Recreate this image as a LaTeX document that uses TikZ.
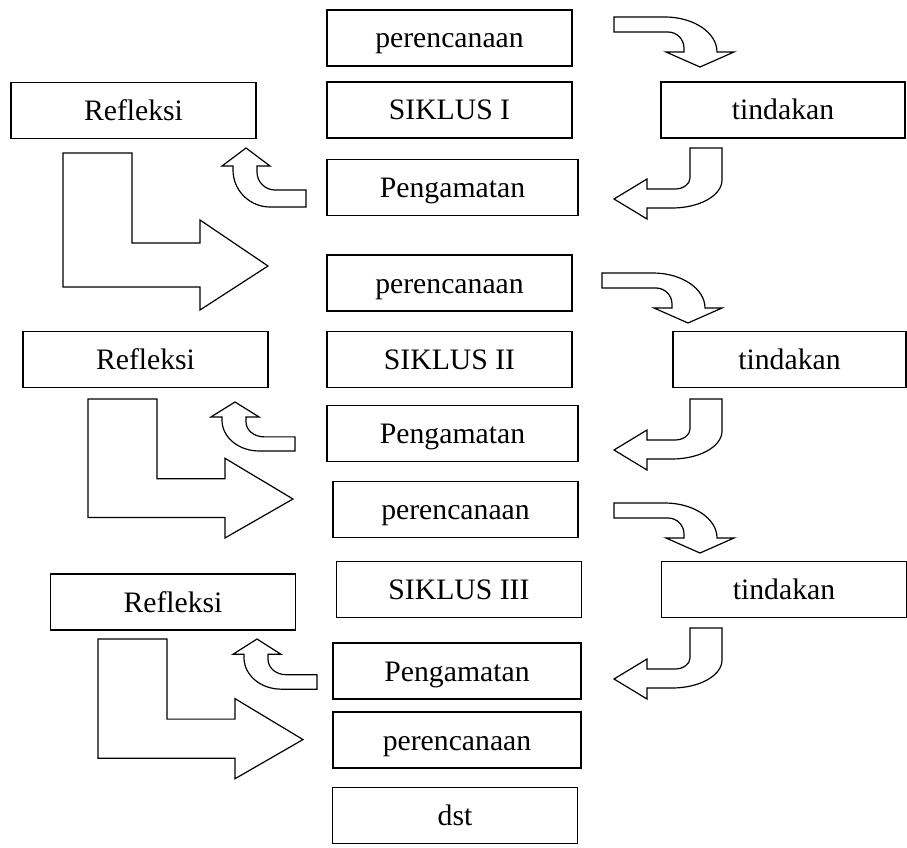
\documentclass[tikz,border=0pt]{standalone}
\usepackage{fontspec}
\setmainfont{Liberation Serif}
\tikzset{
  tahap/.style={draw, line width=1.2pt, inner sep=0pt, minimum width=245pt,
    minimum height=56pt, text height=26pt, text depth=6pt,
    font=\fontsize{29.7}{34}\selectfont},
  panah/.style={draw, line width=1.2pt, fill=white},
  % block arrows, drawn in pixel units from their top left corner
  pics/belokkanan/.style={code={
    \draw[panah] (0,0) -- (51,0) .. controls (79.7,0) and (103,15.7) .. (103,35)
      -- (120,35) -- (86,50) -- (52,35) -- (70,35) -- (70,31)
      .. controls (70,22.2) and (62.8,15) .. (54,15) -- (0,15) -- cycle;}},
  pics/belokkiri/.style={code={
    \draw[panah] (0,0) -- (32,0) -- (32,32) .. controls (32,47.5) and (9.6,60) .. (-18,60)
      -- (-43,60) -- (-43,71) -- (-76,51) -- (-43,31) -- (-43,41) -- (-15,41)
      .. controls (-6.7,41) and (0,36.1) .. (0,30) -- cycle;}},
  pics/panahkecil/.style={code={
    \draw[panah] (0,0) -- (24,18) -- (11,18) -- (11,24) .. controls (11,33.9) and (19.1,42) .. (29,42)
      -- (60,42) -- (60,59) -- (24,59) .. controls (3.6,59) and (-13,42.4) .. (-13,22)
      -- (-13,18) -- (-24,18) -- cycle;}},
  pics/panahbesar/.style={code={
    \draw[panah] (0,0) -- (69,0) -- (69,90) -- (137,90) -- (137,67) -- (205,113)
      -- (137,157) -- (137,134) -- (0,134) -- cycle;}}
}
\begin{document}
\begin{tikzpicture}[x=1pt, y=-1pt]
  \useasboundingbox (0,0) rectangle (907,848);
  % siklus I
  \node[tahap] (ren1) at (449.5,38) {perencanaan};
  \node[tahap] (ref1) at (133.5,110.5) {Refleksi};
  \node[tahap] (sik1) at (449.5,110) {SIKLUS I};
  \node[tahap, minimum width=244pt] (tin1) at (783,110) {tindakan};
  \node[tahap, minimum width=251pt] (pen1) at (452.5,187.5) {Pengamatan};
  \pic at (614,17) {belokkanan};
  \pic at (690,148) {belokkiri};
  \pic at (246,148) {panahkecil};
  \pic at (63,153) {panahbesar};
  % siklus II
  \node[tahap] (ren2) at (449.5,283) {perencanaan};
  \node[tahap] (ref2) at (145.5,359.5) {Refleksi};
  \node[tahap] (sik2) at (449.5,359.5) {SIKLUS II};
  \node[tahap, minimum width=233pt] (tin2) at (789.5,359.5) {tindakan};
  \node[tahap, minimum width=251pt] (pen2) at (452.5,433.5) {Pengamatan};
  \pic at (602,273) {belokkanan};
  \pic at (690,399) {belokkiri};
  \pic[yscale=0.83] at (235,402) {panahkecil};
  \pic[yscale=0.885] at (88,399) {panahbesar};
  % siklus III
  \node[tahap] (ren3) at (455.5,509.5) {perencanaan};
  \node[tahap] (ref3) at (173,602) {Refleksi};
  \node[tahap] (sik3) at (459,589.5) {SIKLUS III};
  \node[tahap] (tin3) at (784,589.5) {tindakan};
  \node[tahap, minimum width=248pt] (pen3) at (457,671) {Pengamatan};
  \pic at (614,503) {belokkanan};
  \pic at (690,628) {belokkiri};
  \pic[yscale=0.85] at (257,639) {panahkecil};
  \pic[yscale=0.89] at (98,639) {panahbesar};
  % berikutnya
  \node[tahap, minimum width=248pt] (ren4) at (457,740) {perencanaan};
  \node[tahap] (dst) at (455,815.5) {dst};
\end{tikzpicture}
\end{document}
